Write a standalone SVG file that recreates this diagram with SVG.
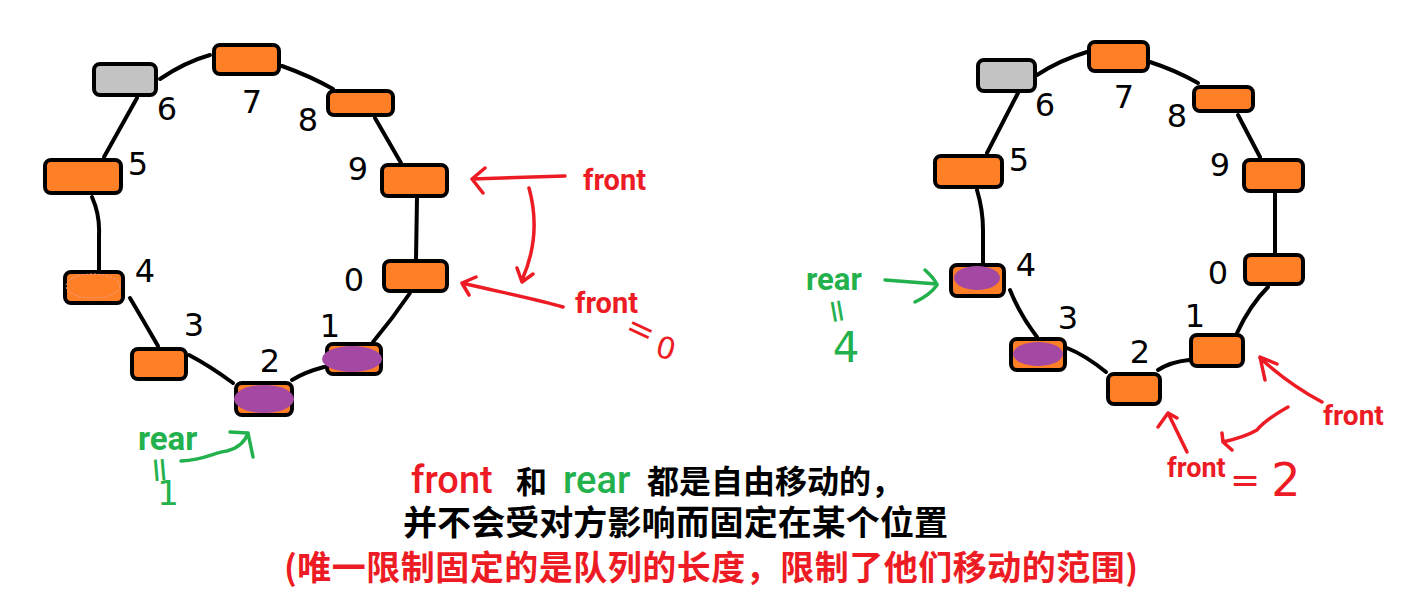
<svg xmlns="http://www.w3.org/2000/svg" width="1416" height="594" viewBox="0 0 1416 594">
<style>
.box{fill:#FF7F27;stroke:#000;stroke-width:4;}
.gray{fill:#C3C3C3;stroke:#000;stroke-width:4;}
.dot{fill:#A349A4;}
.con{fill:none;stroke:#000;stroke-width:4;stroke-linecap:round;stroke-linejoin:round;}
.num{font-family:"DejaVu Sans",sans-serif;font-size:32px;fill:#000;text-anchor:middle;dominant-baseline:central;}
.red{fill:none;stroke:#ED1C24;stroke-width:3.5;stroke-linecap:round;stroke-linejoin:round;}
.grn{fill:none;stroke:#22B14C;stroke-width:3.5;stroke-linecap:round;stroke-linejoin:round;}
.lbl{font-family:Roboto,"Liberation Sans",sans-serif;font-weight:bold;}
.hand{font-family:"DejaVu Sans",sans-serif;text-anchor:middle;dominant-baseline:central;}
.cjk{font-family:"Noto Sans CJK SC",sans-serif;font-weight:bold;}
.lat{font-family:Roboto,"Liberation Sans",sans-serif;font-weight:500;}
</style>
<rect width="1416" height="594" fill="#fff"/>
<g id="connectors">
<path class="con" d="M160,79 Q185,62 210,55"/>
<path class="con" d="M282,66 Q310,76 333,89"/>
<path class="con" d="M375,118 L401,163"/>
<path class="con" d="M417,198 L416,259"/>
<path class="con" d="M410,293 Q393,318 373,342"/>
<path class="con" d="M324,367 Q305,372 292,380"/>
<path class="con" d="M233,383 Q210,366 189,355"/>
<path class="con" d="M158,346 Q143,320 130,298"/>
<path class="con" d="M92,197 Q100,215 99,235 L99,270"/>
<path class="con" d="M104,157 L137,98"/>
<path class="con" d="M1037,75 Q1060,60 1087,52"/>
<path class="con" d="M1150,62 Q1175,70 1198,83"/>
<path class="con" d="M1238,115 L1260,157"/>
<path class="con" d="M1275,193 L1275,253"/>
<path class="con" d="M1268,287 Q1250,305 1237,333"/>
<path class="con" d="M1189,360 Q1170,362 1158,370"/>
<path class="con" d="M1106,372 Q1085,355 1067,348"/>
<path class="con" d="M1037,337 Q1020,315 1010,290"/>
<path class="con" d="M977,190 Q983,210 983,230 L983,263"/>
<path class="con" d="M987,153 L1018,93"/>
</g>
<g id="left-ring">
<g id="L6"><rect class="gray" x="94" y="64" width="62" height="31" rx="6"/><text class="num" x="167" y="109">6</text></g>
<g id="L7"><rect class="box" x="214" y="45" width="65" height="29" rx="6"/><text class="num" x="252" y="102">7</text></g>
<g id="L8"><rect class="box" x="328" y="91" width="65" height="24" rx="6"/><text class="num" x="308" y="120">8</text></g>
<g id="L9"><rect class="box" x="382" y="165" width="65" height="31" rx="6"/><text class="num" x="358" y="169">9</text></g>
<g id="L0"><rect class="box" x="384" y="261" width="63" height="30" rx="6"/><text class="num" x="354" y="280">0</text></g>
<g id="L1"><rect class="box" x="327" y="344" width="54" height="30" rx="6"/><ellipse class="dot" cx="352" cy="359" rx="30" ry="13"/><text class="num" x="330" y="326">1</text></g>
<g id="L2"><rect class="box" x="236" y="383" width="56" height="32" rx="6"/><ellipse class="dot" cx="264" cy="399" rx="30" ry="14"/><text class="num" x="270" y="361">2</text></g>
<g id="L3"><rect class="box" x="132" y="349" width="54" height="30" rx="6"/><text class="num" x="194" y="325">3</text></g>
<g id="L4"><rect class="box" x="65" y="272" width="58" height="31" rx="6"/><ellipse cx="93" cy="286" rx="27" ry="12" fill="none" stroke="#E9A0A0" stroke-width="1" stroke-dasharray="2 2"/><text class="num" x="145" y="271">4</text></g>
<g id="L5"><rect class="box" x="45" y="160" width="76" height="33" rx="6"/><text class="num" x="138" y="164">5</text></g>
</g>
<g id="right-ring">
<g id="R6"><rect class="gray" x="978" y="60" width="57" height="31" rx="6"/><text class="num" x="1045" y="105">6</text></g>
<g id="R7"><rect class="box" x="1089" y="42" width="59" height="29" rx="6"/><text class="num" x="1124" y="97">7</text></g>
<g id="R8"><rect class="box" x="1194" y="87" width="59" height="24" rx="6"/><text class="num" x="1177" y="116">8</text></g>
<g id="R9"><rect class="box" x="1244" y="160" width="59" height="31" rx="6"/><text class="num" x="1220" y="165">9</text></g>
<g id="R0"><rect class="box" x="1245" y="255" width="58" height="29" rx="6"/><text class="num" x="1218" y="273">0</text></g>
<g id="R1"><rect class="box" x="1191" y="335" width="52" height="31" rx="6"/><text class="num" x="1195" y="316">1</text></g>
<g id="R2"><rect class="box" x="1108" y="374" width="52" height="30" rx="6"/><text class="num" x="1140" y="352">2</text></g>
<g id="R3"><rect class="box" x="1011" y="339" width="54" height="31" rx="6"/><ellipse class="dot" cx="1038" cy="354" rx="25" ry="12"/><text class="num" x="1068" y="318">3</text></g>
<g id="R4"><rect class="box" x="951" y="265" width="53" height="31" rx="6"/><ellipse class="dot" cx="977" cy="278" rx="23" ry="12"/><text class="num" x="1026" y="265">4</text></g>
<g id="R5"><rect class="box" x="935" y="156" width="67" height="31" rx="6"/><text class="num" x="1019" y="160">5</text></g>
</g>
<g id="left-annotations">
<path class="red" d="M565,176 L472,179 M485,168 L472,179 L483,193"/>
<path class="red" d="M529,188 Q542,235 522,280 M517,268 L522,282 L533,274"/>
<path class="red" d="M563,307 C540,300 500,292 462,283 M476,277 L462,283 L469,295"/>
<text class="lbl" x="583" y="190" font-size="29" fill="#ED1C24">front</text>
<text class="lbl" x="575" y="313" font-size="29" fill="#ED1C24">front</text>
<text class="hand" x="641" y="329" font-size="34" fill="#ED1C24" transform="rotate(25 641 329)">=</text>
<text class="hand" x="666" y="348" font-size="30" fill="#ED1C24" transform="rotate(15 666 348)">0</text>
<text class="lbl" x="138" y="450" font-size="33" fill="#22B14C">rear</text>
<path class="grn" d="M181,461 C205,460 215,452 227,451 C238,448 245,442 248,433 M230,432 L248,433 L253,457"/>
<text class="hand" x="161" y="470" font-size="34" fill="#22B14C" transform="rotate(85 161 470)">=</text>
<text class="hand" x="168" y="493" font-size="34" fill="#22B14C">1</text>
</g>
<g id="right-annotations">
<text class="lbl" x="806" y="290" font-size="31" fill="#22B14C">rear</text>
<path class="grn" d="M885,280 L937,284 M925,270 Q935,279 937,285 Q930,295 915,302"/>
<text class="hand" x="838" y="311" font-size="32" fill="#22B14C" transform="rotate(80 838 311)">=</text>
<text class="hand" x="846" y="347" font-size="42" fill="#22B14C">4</text>
<path class="red" d="M1322,402 Q1290,385 1260,358 M1265,380 L1260,357 L1277,364"/>
<path class="red" d="M1288,407 Q1265,420 1257,430 Q1245,437 1223,442 M1222,433 L1223,442 L1232,450"/>
<path class="red" d="M1187,452 L1168,413 M1158,427 L1168,413 L1177,418"/>
<text class="lbl" x="1323" y="425" font-size="28" fill="#ED1C24">front</text>
<text class="lbl" x="1167" y="477" font-size="27" fill="#ED1C24">front</text>
<text class="hand" x="1245" y="479" font-size="36" fill="#ED1C24">=</text>
<text class="hand" x="1286" y="480" font-size="46" fill="#ED1C24">2</text>
</g>
<g id="caption">
<text class="lat" x="411" y="493" font-size="38" fill="#ED1C24">front</text>
<text class="cjk" x="516" y="493" font-size="31" fill="#000">和</text>
<text class="lat" x="563" y="493" font-size="38" fill="#22B14C">rear</text>
<text class="cjk" x="647" y="493" font-size="32" fill="#000">都是自由移动的，</text>
<text class="cjk" x="403" y="535" font-size="34" fill="#000" textLength="545" lengthAdjust="spacing">并不会受对方影响而固定在某个位置</text>
<text class="cjk" x="284" y="580" font-size="34" fill="#ED1C24" textLength="854" lengthAdjust="spacing">(唯一限制固定的是队列的长度，限制了他们移动的范围)</text>
</g>
</svg>
